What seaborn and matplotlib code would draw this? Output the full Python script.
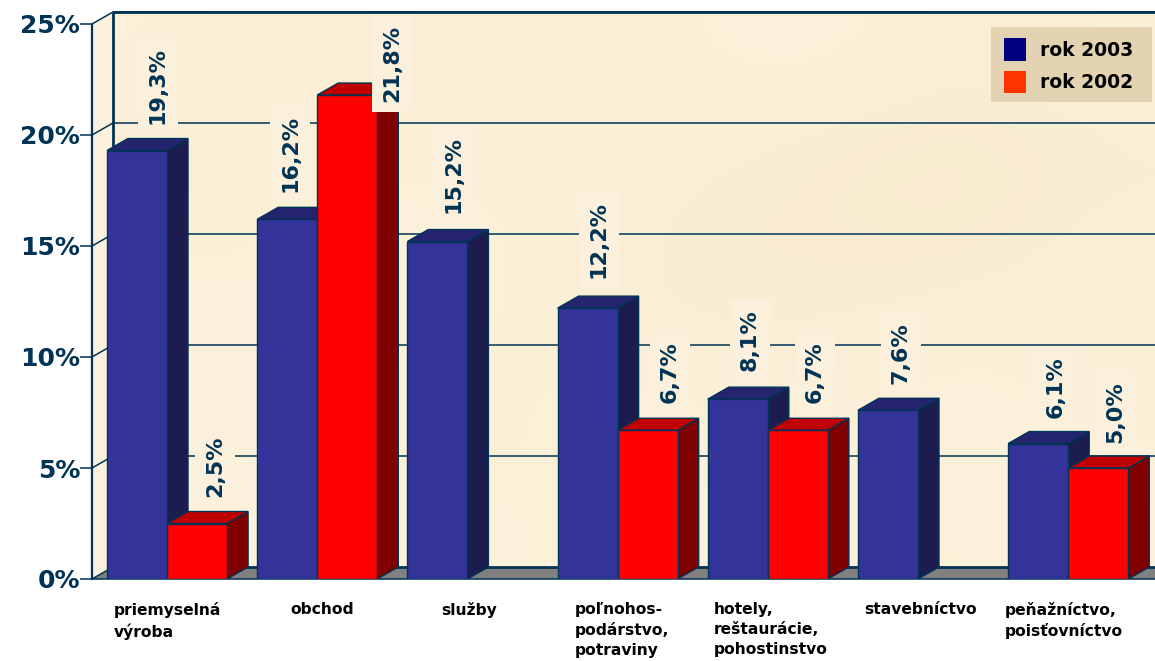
import matplotlib
matplotlib.use("Agg")
import numpy as np
import pandas as pd
import seaborn as sns
import matplotlib.pyplot as plt
from matplotlib.patches import Polygon, Patch, Rectangle
from matplotlib.colors import LinearSegmentedColormap
from matplotlib.transforms import ScaledTranslation

# ---------- data ----------
categories = ["priemyselná\nvýroba", "obchod", "služby", "poľnohos-\npodárstvo,\npotraviny",
              "hotely,\nreštaurácie,\npohostinstvo", "stavebníctvo", "peňažníctvo,\npoisťovníctvo"]
y2003 = [19.3, 16.2, 15.2, 12.2, 8.1, 7.6, 6.1]
y2002 = [2.5, 21.8, np.nan, 6.7, 6.7, np.nan, 5.0]
y_ticks = [0, 5, 10, 15, 20, 25]

# label offsets from the bar's top centre, pixels
dx_2003 = [21, 3, 16, 11, 12, 13, 17]
dy_2003 = [65, 66, 67, 69, 59, 57, 56]
dx_2002 = [18, 45, 0, 22, 17, 0, 17]
dy_2002 = [57, 32, 0, 58, 58, 0, 56]
# tick-label left offset from the group's centre, pixels
xlabel_dx = [-53, -27, -26, -43, -54, -54, -63]
# parchment tones, coarse
parchment = [[.75, .55, .70, .60, .75, .80, .65, .70],
             [.60, .80, .70, .75, .60, .45, .30, .55],
             [.80, .70, .85, .65, .50, .55, .60, .75],
             [.70, .85, .60, .80, .75, .70, .85, .65],
             [.90, .75, .80, .70, .85, .80, .70, .85]]

NAVY = "#003355"
W, H = 1155, 661
PX_X, PX_Y = 150.2, 22.2           # pixels per category / per percent
DX, DY = 21 / PX_X, 12 / PX_Y      # depth of the 3D effect
XL, YT = 92, 12

sns.set_theme(style="white")
plt.rcParams["font.family"] = ["DejaVu Sans"]
fig = plt.figure(figsize=(W / 100, H / 100), dpi=100)
ax = fig.add_axes([XL / W, 1 - 579 / H, 1 - XL / W, (579 - YT) / H])
ax.patch.set_visible(False)

df = pd.DataFrame({"cat": categories * 2,
                   "val": y2003 + y2002,
                   "rok": ["rok 2003"] * 7 + ["rok 2002"] * 7})
sns.barplot(data=df, x="cat", y="val", hue="rok", order=categories,
            hue_order=["rok 2003", "rok 2002"], saturation=1,
            palette=["#333399", "#FF0000"], width=0.8, gap=0,
            edgecolor=NAVY, linewidth=1.0, legend=False, ax=ax, zorder=3)

x0 = (XL - 167) / PX_X
x1 = (W - 167) / PX_X
ymax = (579 - YT) / PX_Y
ax.set_xlim(x0, x1)
ax.set_ylim(0, ymax)

# walls
cmap = LinearSegmentedColormap.from_list("parch", ["#F6E8C6", "#FEF4E2"])
ax.imshow(parchment, extent=(x0 + DX, x1, DY, ymax), aspect="auto", cmap=cmap,
          vmin=0.2, vmax=1, interpolation="bicubic", zorder=0)
ax.set_xlim(x0, x1)
ax.set_ylim(0, ymax)
ax.add_patch(Polygon([(x0, 0), (x0 + DX, DY), (x0 + DX, ymax), (x0, 25)],
                     fc="#FCF1DC", ec="none", zorder=0.5))
ax.add_patch(Polygon([(x0, 0), (x0 + DX, DY), (x1, DY), (x1, 0)],
                     fc="#808080", ec="none", zorder=1))
for t in y_ticks[1:]:
    ax.plot([x0 + DX, x1], [t + DY, t + DY], color=NAVY, lw=1.1, zorder=1, clip_on=False)
for t in y_ticks:
    ax.plot([x0, x0 + DX], [t, t + DY], color=NAVY, lw=1.1, zorder=1.2)
ax.plot([x1, x0 + DX, x0 + DX, x1], [DY, DY, ymax, ymax], color=NAVY, lw=2, zorder=1.2, clip_on=False)
ax.plot([x0, x0], [0, 25], color=NAVY, lw=1.6, zorder=1.2, clip_on=False)
ax.plot([x0, x1], [0, 0], color=NAVY, lw=1.1, zorder=2, clip_on=False)

# 3D faces, derived from the seaborn bars
faces = {"blue": ("#25256F", "#1C1C4E"), "red": ("#C00000", "#800000")}
bars = [b for b in ax.patches if type(b).__name__ == "Rectangle" and b.get_height() > 0
        and b.get_width() < 0.5]
bars = sorted(bars, key=lambda b: b.get_x())
for n, b in enumerate(bars):
    xa, w, h = b.get_x(), b.get_width(), b.get_height()
    top, side = faces["red"] if b.get_facecolor()[0] > 0.9 else faces["blue"]
    z = 3 + n * 0.01
    ax.add_patch(Polygon([(xa + w, 0), (xa + w + DX, DY), (xa + w + DX, h + DY), (xa + w, h)],
                         fc=side, ec=NAVY, lw=1.0, zorder=z))
    ax.add_patch(Polygon([(xa, h), (xa + DX, h + DY), (xa + w + DX, h + DY), (xa + w, h)],
                         fc=top, ec=NAVY, lw=1.0, zorder=z))
    b.set_zorder(z + 0.005)

# value labels
for i, (a, b) in enumerate(zip(y2003, y2002)):
    for off, val, dx, dy in ((-0.2, a, dx_2003[i], dy_2003[i]), (0.2, b, dx_2002[i], dy_2002[i])):
        if np.isnan(val):
            continue
        ax.annotate(f"{val:.1f}%".replace(".", ","), xy=(i + off, val),
                    xytext=(dx, dy), textcoords="offset pixels", rotation=90,
                    ha="center", va="center", fontsize=16, fontweight="bold", color=NAVY,
                    bbox=dict(boxstyle="square,pad=0.45", fc="#FBF0DC", ec="none"),
                    zorder=10, annotation_clip=False)

# axes furniture
ax.set_yticks(y_ticks)
ax.set_yticklabels([f"{t}%" for t in y_ticks], fontsize=18, fontweight="bold", color=NAVY)
ax.tick_params(axis="y", length=8.6, width=1.1, color=NAVY, pad=0, left=True)
ax.set_xticks(range(len(categories)))
ax.set_xticklabels(categories, fontsize=11.2, fontweight="bold", color="black",
                   ha="left", va="top", linespacing=1.4)
ax.tick_params(axis="x", length=0, pad=0)
for lab, d in zip(ax.get_xticklabels(), xlabel_dx):
    lab.set_transform(lab.get_transform() + ScaledTranslation(d / 100, -23 / 100, fig.dpi_scale_trans))
ax.set_xlabel("")
ax.set_ylabel("")
sns.despine(ax=ax, left=True, bottom=True)

# legend on its tan panel
ax.add_patch(Rectangle((991 / W, 1 - 102 / H), 161 / W, 75 / H, transform=fig.transFigure,
                       fc="#E3D3B3", ec="none", zorder=11, clip_on=False))
handles = [Patch(fc="#000080", ec="none", label="rok 2003"),
           Patch(fc="#FF3300", ec="none", label="rok 2002")]
leg = ax.legend(handles=handles, loc="upper right", bbox_to_anchor=(1144 / W, 1 - 27 / H),
                bbox_transform=fig.transFigure, borderaxespad=0,
                prop=dict(weight="bold", size=13.5), handlelength=1.17, handleheight=1.5,
                labelspacing=0.5, handletextpad=0.7, borderpad=0.6, frameon=False,
                labelcolor="black")
leg.set_zorder(12)

fig.savefig("out.png", dpi=100)
